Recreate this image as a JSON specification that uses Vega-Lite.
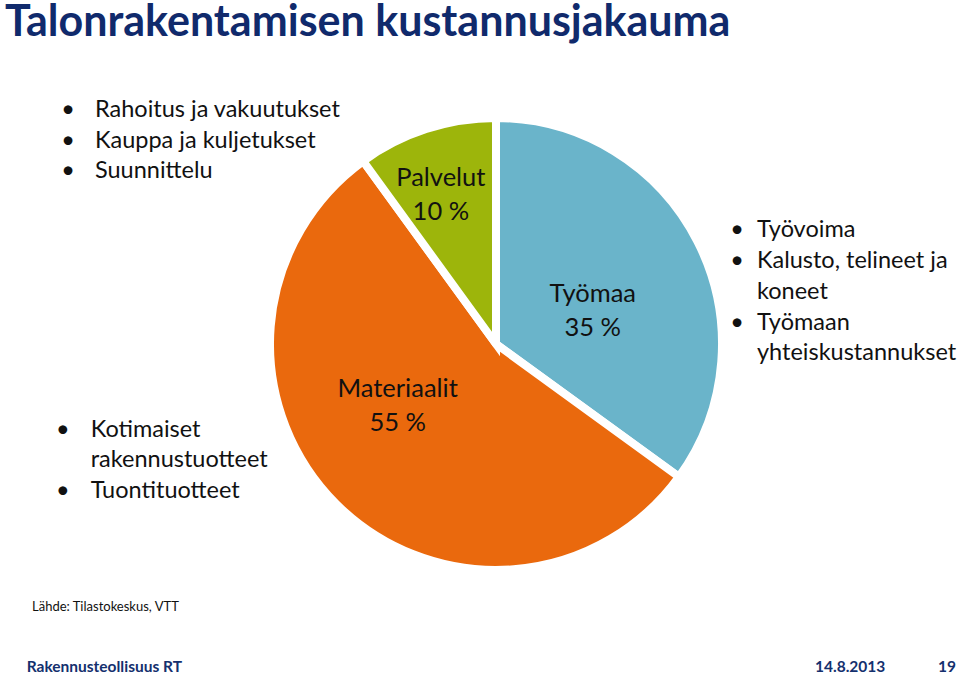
{
  "$schema": "https://vega.github.io/schema/vega-lite/v6.json",
  "autosize": "none",
  "width": 928,
  "height": 660,
  "padding": {"left": 32, "top": 14, "right": 0, "bottom": 0},
  "background": "white",
  "config": {"view": {"stroke": null}, "font": "Lato", "text": {"font": "Lato"}},
  "layer": [
    {
      "data": {"values": [
        {"nimi": "Työmaa", "osuus": 35},
        {"nimi": "Materiaalit", "osuus": 55},
        {"nimi": "Palvelut", "osuus": 10}
      ]},
      "transform": [{"calculate": "datum.nimi + '\\n' + datum.osuus + ' %'", "as": "label"}],
      "encoding": {
        "theta": {"field": "osuus", "type": "quantitative", "stack": true, "scale": {"range": [-0.6283185, 5.6548668]}},
        "order": {"field": "osuus", "sort": "ascending"}
      },
      "layer": [
        {
          "mark": {"type": "arc", "outerRadius": 226, "stroke": "white", "strokeWidth": 8},
          "encoding": {
            "color": {"field": "nimi", "type": "nominal", "legend": null,
              "scale": {"domain": ["Työmaa", "Materiaalit", "Palvelut"], "range": ["#6AB4CA", "#EA690D", "#9DB50B"]}}
          }
        },
        {
          "mark": {"type": "text", "radius": 103, "dx": 5, "dy": -3, "fontSize": 25.5, "lineHeight": 34, "lineBreak": "\n", "align": "center", "baseline": "middle", "color": "#111111"},
          "encoding": {
            "text": {"field": "label", "type": "nominal"},
            "opacity": {"condition": {"test": "datum.nimi === 'Työmaa'", "value": 1}, "value": 0}
          }
        },
        {
          "mark": {"type": "text", "radius": 115, "dx": -17, "dy": -36, "fontSize": 25.5, "lineHeight": 34, "lineBreak": "\n", "align": "center", "baseline": "middle", "color": "#111111"},
          "encoding": {
            "text": {"field": "label", "type": "nominal"},
            "opacity": {"condition": {"test": "datum.nimi === 'Materiaalit'", "value": 1}, "value": 0}
          }
        },
        {
          "mark": {"type": "text", "radius": 159, "dx": -6, "dy": -15, "fontSize": 25.5, "lineHeight": 34, "lineBreak": "\n", "align": "center", "baseline": "middle", "color": "#111111"},
          "encoding": {
            "text": {"field": "label", "type": "nominal"},
            "opacity": {"condition": {"test": "datum.nimi === 'Palvelut'", "value": 1}, "value": 0}
          }
        }
      ]
    },
    {
      "data": {"values": [{}]},
      "mark": {"type": "text", "text": "Talonrakentamisen kustannusjakauma", "x": -27, "y": 22, "align": "left", "baseline": "alphabetic", "fontSize": 43, "fontWeight": "bold", "color": "#102A6C"},
      "encoding": {}
    },
    {
      "data": {"values": [{}]},
      "mark": {"type": "text", "text": ["Rahoitus ja vakuutukset", "Kauppa ja kuljetukset", "Suunnittelu"], "x": 63, "y": 103, "lineHeight": 30.7, "align": "left", "baseline": "alphabetic", "fontSize": 23.5, "color": "#111111"},
      "encoding": {}
    },
    {
      "data": {"values": [{}]},
      "mark": {"type": "text", "text": ["•", "•", "•"], "x": 36, "y": 103, "lineHeight": 30.7, "align": "center", "baseline": "alphabetic", "fontSize": 23.5, "color": "#111111"},
      "encoding": {}
    },
    {
      "data": {"values": [{}]},
      "mark": {"type": "text", "text": ["Kotimaiset", "rakennustuotteet", "Tuontituotteet"], "x": 58.7, "y": 422.7, "lineHeight": 30.7, "align": "left", "baseline": "alphabetic", "fontSize": 23.5, "color": "#111111"},
      "encoding": {}
    },
    {
      "data": {"values": [{}]},
      "mark": {"type": "text", "text": "•", "x": 30.7, "y": 422.7, "align": "center", "baseline": "alphabetic", "fontSize": 23.5, "color": "#111111"},
      "encoding": {}
    },
    {
      "data": {"values": [{}]},
      "mark": {"type": "text", "text": "•", "x": 30.7, "y": 484.1, "align": "center", "baseline": "alphabetic", "fontSize": 23.5, "color": "#111111"},
      "encoding": {}
    },
    {
      "data": {"values": [{}]},
      "mark": {"type": "text", "text": ["Työvoima", "Kalusto, telineet ja", "koneet", "Työmaan", "yhteiskustannukset"], "x": 725, "y": 223.3, "lineHeight": 30.8, "align": "left", "baseline": "alphabetic", "fontSize": 23.5, "color": "#111111"},
      "encoding": {}
    },
    {
      "data": {"values": [{}]},
      "mark": {"type": "text", "text": ["•", "•"], "x": 705, "y": 223.3, "lineHeight": 30.8, "align": "center", "baseline": "alphabetic", "fontSize": 23.5, "color": "#111111"},
      "encoding": {}
    },
    {
      "data": {"values": [{}]},
      "mark": {"type": "text", "text": "•", "x": 705, "y": 315.7, "align": "center", "baseline": "alphabetic", "fontSize": 23.5, "color": "#111111"},
      "encoding": {}
    },
    {
      "data": {"values": [{}]},
      "mark": {"type": "text", "text": "Lähde: Tilastokeskus, VTT", "x": 0, "y": 597, "align": "left", "baseline": "alphabetic", "fontSize": 13, "color": "#111111"},
      "encoding": {}
    },
    {
      "data": {"values": [{}]},
      "mark": {"type": "text", "text": "Rakennusteollisuus RT", "x": -5.3, "y": 658, "align": "left", "baseline": "alphabetic", "fontSize": 15.5, "fontWeight": "bold", "color": "#14306E"},
      "encoding": {}
    },
    {
      "data": {"values": [{}]},
      "mark": {"type": "text", "text": "14.8.2013", "x": 783, "y": 658, "align": "left", "baseline": "alphabetic", "fontSize": 15.5, "fontWeight": "bold", "color": "#14306E"},
      "encoding": {}
    },
    {
      "data": {"values": [{}]},
      "mark": {"type": "text", "text": "19", "x": 906, "y": 658, "align": "left", "baseline": "alphabetic", "fontSize": 15.5, "fontWeight": "bold", "color": "#14306E"},
      "encoding": {}
    }
  ]
}
